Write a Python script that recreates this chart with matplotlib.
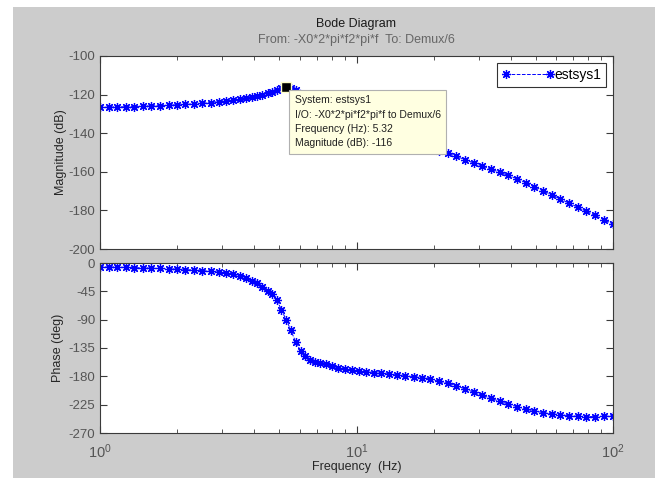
import matplotlib
matplotlib.use("Agg")
import matplotlib.pyplot as plt
import matplotlib.ticker as ticker
from matplotlib.patches import Rectangle

plt.rcParams['font.family'] = ['Liberation Sans', 'DejaVu Sans']
plt.rcParams['axes.unicode_minus'] = False

freq = [1.0, 1.08, 1.17, 1.26, 1.36, 1.47, 1.58, 1.71, 1.85, 2.0,
        2.15, 2.32, 2.5, 2.7, 2.9, 3.1, 3.3, 3.5, 3.7, 3.9,
        4.1, 4.3, 4.5, 4.7, 4.9, 5.1, 5.32, 5.55, 5.8, 6.05,
        6.3, 6.6, 6.9, 7.2, 7.6, 8.0, 8.5, 9.0, 9.6, 10.2,
        10.9, 11.7, 12.5, 13.4, 14.4, 15.5, 16.7, 18.0, 19.4, 21.0,
        22.7, 24.5, 26.5, 28.6, 30.9, 33.4, 36.1, 39.0, 42.2, 45.6,
        49.3, 53.3, 57.6, 62.3, 67.3, 72.8, 78.7, 85.1, 92.0, 100.0]

mag = [-126.6, -126.5, -126.4, -126.3, -126.2, -126.0, -125.9, -125.7, -125.5, -125.3,
       -125.1, -124.8, -124.5, -124.1, -123.7, -123.3, -122.9, -122.4, -121.9, -121.3,
       -120.7, -120.0, -119.3, -118.5, -117.7, -116.8, -116.0, -116.4, -117.8, -119.5,
       -121.2, -123.0, -124.6, -126.0, -127.6, -129.0, -130.6, -132.0, -133.5, -134.9,
       -136.3, -137.8, -139.2, -140.6, -142.0, -143.4, -144.8, -146.2, -147.6, -149.0,
       -150.4, -152.0, -153.7, -155.4, -157.0, -158.6, -160.2, -161.8, -163.6, -165.6,
       -167.7, -169.8, -171.9, -174.1, -176.2, -178.3, -180.5, -182.6, -184.8, -187.0]

phase = [-6, -6.3, -6.6, -7, -7.4, -7.8, -8.2, -8.7, -9.2, -9.8,
         -10.5, -11.2, -12, -13.2, -14.5, -16, -18, -20.5, -23.5, -28,
         -32, -38, -45, -50, -59, -75, -90, -107, -126, -139,
         -147, -154, -157, -159, -161, -164, -166.5, -168.5, -170.5, -172,
         -173, -174, -175, -176.5, -178, -179, -180.5, -182, -184.5, -188,
         -191, -195, -200, -205, -210, -215, -219.5, -224, -228, -232,
         -235, -237.5, -239.5, -241, -242.5, -243.5, -244, -244, -243.5, -243]

mag_ticks = [-100, -120, -140, -160, -180, -200]
phase_ticks = [0, -45, -90, -135, -180, -225, -270]

tip_freq = 5.32
tip_mag = -116
tip_lines = ["System: estsys1",
             "I/O: -X0*2*pi*f2*pi*f to Demux/6",
             "Frequency (Hz): 5.32",
             "Magnitude (dB): -116"]

W, H = 655, 478
fig = plt.figure(figsize=(W / 100, H / 100), dpi=100, facecolor="white")
fig.patches.append(Rectangle((13 / W, 0), 1, 1 - 7 / H, transform=fig.transFigure,
                             facecolor="#cccccc", edgecolor="none", zorder=-10))

tick_col = "#555555"
spine_col = "#3a3a3a"
asterisk = (8, 2, 0)

ax1 = fig.add_axes([100 / W, 1 - 249 / H, 513 / W, 193 / H])
ax2 = fig.add_axes([100 / W, 1 - 433 / H, 513 / W, 170 / H], sharex=ax1)

for ax in (ax1, ax2):
    ax.set_xscale("log")
    ax.set_xlim(1, 100)
    ax.tick_params(which="both", direction="in", top=True, right=True,
                   colors=spine_col, labelcolor=tick_col, labelsize=9.5)
    ax.tick_params(which="major", length=5)
    ax.tick_params(which="minor", length=3)
    for s in ax.spines.values():
        s.set_color(spine_col)
        s.set_linewidth(0.8)

line_kw = dict(color="blue", linestyle="--", linewidth=0.7, marker=asterisk,
               markersize=6.5, markeredgewidth=0.9)

ax1.plot(freq, mag, label="estsys1", **line_kw)
ax1.set_ylim(-200, -100)
ax1.set_yticks(mag_ticks)
ax1.tick_params(labelbottom=False)
ax1.set_ylabel("Magnitude (dB)", fontsize=9, color="#262626", labelpad=1)

ax2.plot(freq, phase, **line_kw)
ax2.set_ylim(-270, 0)
ax2.set_yticks(phase_ticks)
ax2.set_ylabel("Phase (deg)", fontsize=9, color="#262626", labelpad=3)
ax2.set_xlabel("Frequency  (Hz)", fontsize=9, color="#262626", va="center")
ax2.xaxis.set_label_coords(0.5, -34 / 170)
ax2.xaxis.set_major_locator(ticker.LogLocator(base=10))
ax2.xaxis.set_minor_locator(ticker.LogLocator(base=10, subs=range(2, 10)))
ax2.xaxis.set_minor_formatter(ticker.NullFormatter())
ax2.tick_params(axis="x", which="major", pad=7, labelsize=10.5)

leg = ax1.legend(loc="upper right", fontsize=10, frameon=True, fancybox=False,
                 numpoints=2, handlelength=3.8, handletextpad=0.0,
                 borderaxespad=0.5, borderpad=0.35)
leg.get_frame().set_edgecolor("black")
leg.get_frame().set_linewidth(0.8)

# data tip
ax1.plot([tip_freq], [tip_mag], marker="s", color="black", markersize=7,
         markeredgecolor="#ffffc8", markeredgewidth=1, zorder=5)
ax1.annotate("\n".join(tip_lines), xy=(tip_freq, tip_mag), xycoords="data",
             xytext=(6, -6), textcoords="offset points", ha="left", va="top",
             fontsize=7.5, color="#202020", linespacing=1.55, zorder=6,
             bbox=dict(boxstyle="square,pad=0.5", facecolor="#ffffe1",
                       edgecolor="#b0b0b0", linewidth=0.8))

fig.text((100 + 613) / 2 / W, 1 - 24 / H, "Bode Diagram", ha="center", va="center",
         fontsize=9, color="#1a1a1a")
fig.text((100 + 613) / 2 / W, 1 - 40 / H, "From: -X0*2*pi*f2*pi*f  To: Demux/6",
         ha="center", va="center", fontsize=9, color="#666666")

fig.savefig("out.png", dpi=100, facecolor=fig.get_facecolor())
